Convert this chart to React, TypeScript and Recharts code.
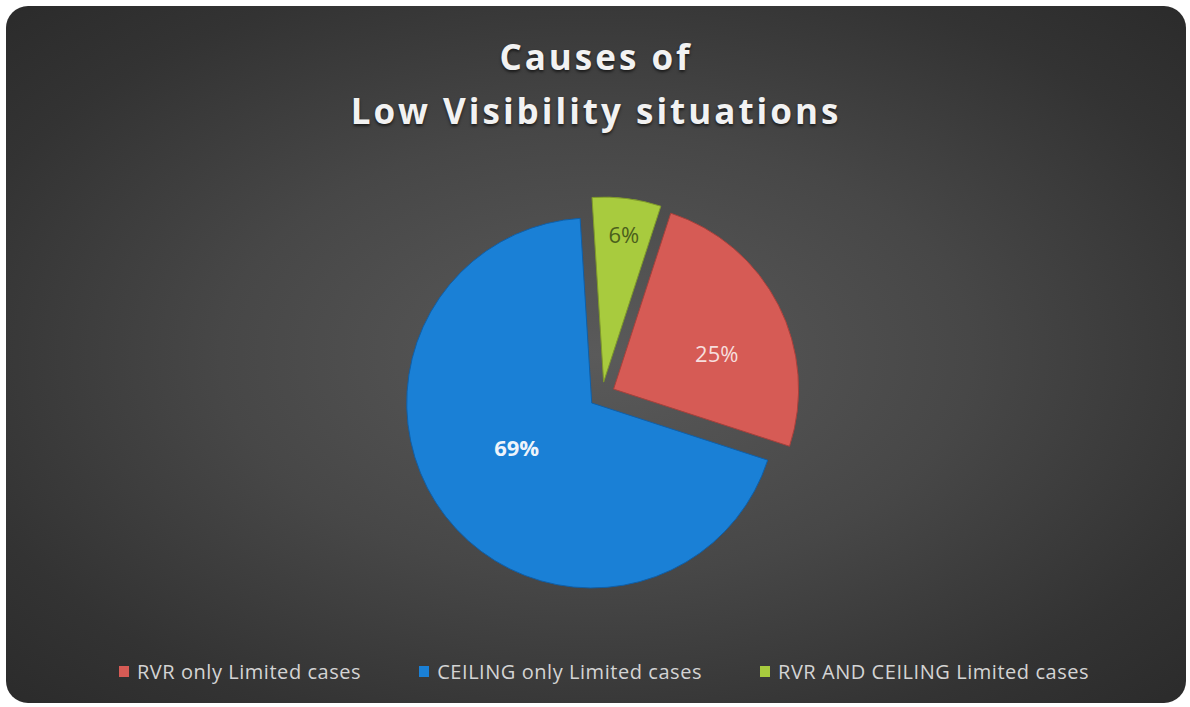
import { PieChart, Pie, Cell, Sector, Legend } from "recharts";

const categories = ["RVR only Limited cases", "CEILING only Limited cases", "RVR AND CEILING Limited cases"];
const values = [25, 69, 6];
const labels = ["25%", "69%", "6%"];

const colors = ["#d65b55", "#1a80d6", "#a8cb3e"];
const edgeColors = ["#a8403b", "#0f5fa8", "#7f9a2a"];
const labelColors = ["#f6dedd", "#eef4fb", "#4b5f1c"];
const labelWeights = [400, 700, 400];
// label placement: radius factor and clockwise angle nudge
const labelRadius = [0.66, 0.54, 0.88];
const labelShift = [7, 6.5, 0.5];

const data = categories.map((name, i) => ({ name, value: values[i], label: labels[i] }));

const RAD = Math.PI / 180;
const EXPLODE = 13;

function ExplodedSlice(props: any) {
  const { cx, cy, midAngle } = props;
  const dx = Math.cos(-midAngle * RAD) * EXPLODE;
  const dy = Math.sin(-midAngle * RAD) * EXPLODE;
  return <Sector {...props} cx={cx + dx} cy={cy + dy} />;
}

function SliceLabel(props: any) {
  const { cx, cy, midAngle, outerRadius, index } = props;
  const a = (midAngle - labelShift[index]) * RAD;
  const r = outerRadius * labelRadius[index];
  const x = cx + r * Math.cos(-a);
  const y = cy + r * Math.sin(-a);
  return (
    <text
      x={x}
      y={y}
      fill={labelColors[index]}
      fontSize={22}
      fontWeight={labelWeights[index]}
      fontFamily="'Open Sans', sans-serif"
      textAnchor="middle"
      dominantBaseline="central"
    >
      {data[index].label}
    </text>
  );
}

function LegendContent() {
  return (
    <div style={{ display: "flex", justifyContent: "center", gap: 58, paddingLeft: 16, fontFamily: "'Open Sans', sans-serif", fontSize: 20, letterSpacing: 0.55, color: "#d4d4d4" }}>
      {categories.map((c, i) => (
        <div key={c} style={{ display: "flex", alignItems: "center" }}>
          <span style={{ display: "inline-block", width: 10, height: 11, background: colors[i], marginRight: 8 }} />
          <span>{c}</span>
        </div>
      ))}
    </div>
  );
}

export default function App() {
  return (
    <div style={{ position: "absolute", left: 0, top: 0, width: 1190, height: 707, background: "#ffffff" }}>
      <div
        style={{
          position: "absolute",
          left: 6,
          top: 6,
          width: 1180,
          height: 697,
          borderRadius: 22,
          overflow: "hidden",
          background: "radial-gradient(ellipse at 50% 50%, #5a5a5a 0%, #474747 45%, #333333 80%, #2b2b2b 100%)",
        }}
      >
        <div
          style={{
            position: "absolute",
            left: 0,
            top: 24,
            width: 1180,
            textAlign: "center",
            fontFamily: "'Open Sans', sans-serif",
            fontWeight: 700,
            fontSize: 35,
            letterSpacing: 3,
            lineHeight: "54px",
            color: "#f2f2f2",
            textShadow: "0 2px 3px rgba(0,0,0,0.6)",
          }}
        >
          Causes of
          <br />
          Low Visibility situations
        </div>
        <PieChart width={1180} height={697} style={{ position: "absolute", left: 0, top: 0 }}>
          <Pie
            data={data}
            dataKey="value"
            nameKey="name"
            cx={591}
            cy={384}
            outerRadius={185}
            startAngle={72}
            endAngle={-288}
            shape={ExplodedSlice}
            label={SliceLabel}
            labelLine={false}
            isAnimationActive={false}
          >
            {data.map((d, i) => (
              <Cell key={d.name} fill={colors[i]} stroke={edgeColors[i]} strokeWidth={1} />
            ))}
          </Pie>
          <Legend content={LegendContent} wrapperStyle={{ top: 652, left: 0, width: 1180 }} />
        </PieChart>
      </div>
    </div>
  );
}
